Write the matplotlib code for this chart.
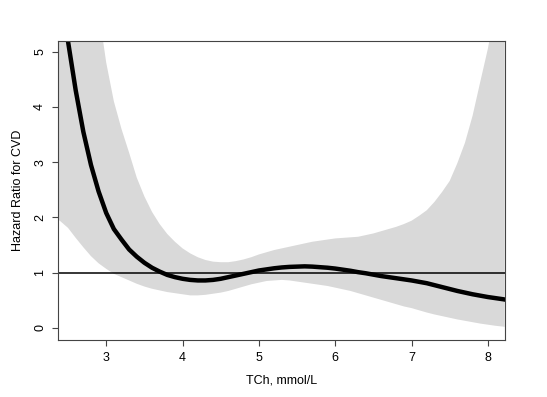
import matplotlib
matplotlib.use('Agg')
import matplotlib.pyplot as plt

plt.rcParams['font.family'] = ['Liberation Sans', 'DejaVu Sans']

# TCh values (mmol/L) and spline estimates
tch = [2.37,
       2.4, 2.5, 2.6, 2.7, 2.8, 2.9, 3.0, 3.1, 3.2, 3.3,
       3.4, 3.5, 3.6, 3.7, 3.8, 3.9, 4.0, 4.1, 4.2, 4.3,
       4.4, 4.5, 4.6, 4.7, 4.8, 4.9, 5.0, 5.1, 5.2, 5.3,
       5.4, 5.5, 5.6, 5.7, 5.8, 5.9, 6.0, 6.1, 6.2, 6.3,
       6.4, 6.5, 6.6, 6.7, 6.8, 6.9, 7.0, 7.1, 7.2, 7.3,
       7.4, 7.5, 7.6, 7.7, 7.8, 7.9, 8.0, 8.1, 8.2, 8.22]
hr = [6.6,
      6.2, 5.18, 4.3, 3.55, 2.95, 2.47, 2.08, 1.79, 1.6, 1.42,
      1.29, 1.18, 1.09, 1.02, 0.96, 0.92, 0.89, 0.87, 0.86, 0.86,
      0.87, 0.89, 0.92, 0.95, 0.98, 1.01, 1.04, 1.06, 1.08, 1.095,
      1.105, 1.11, 1.115, 1.11, 1.10, 1.09, 1.075, 1.055, 1.035, 1.01,
      0.99, 0.965, 0.94, 0.92, 0.90, 0.88, 0.86, 0.835, 0.81, 0.775,
      0.74, 0.705, 0.67, 0.64, 0.61, 0.585, 0.56, 0.54, 0.52, 0.515]
upper = [7.5,
         7.5, 7.4, 7.2, 6.9, 6.4, 5.75, 4.8, 4.1, 3.6, 3.17,
         2.72, 2.38, 2.1, 1.88, 1.7, 1.56, 1.44, 1.35, 1.28, 1.23,
         1.2, 1.19, 1.19, 1.21, 1.24, 1.28, 1.33, 1.37, 1.41, 1.44,
         1.47, 1.5, 1.53, 1.56, 1.58, 1.6, 1.62, 1.63, 1.64, 1.65,
         1.68, 1.71, 1.75, 1.79, 1.83, 1.88, 1.94, 2.03, 2.13, 2.28,
         2.46, 2.66, 2.98, 3.35, 3.84, 4.45, 5.05, 5.8, 6.6, 6.8]
lower = [1.96,
         1.93, 1.81, 1.63, 1.46, 1.3, 1.17, 1.07, 0.98, 0.92, 0.86,
         0.8, 0.75, 0.71, 0.68, 0.65, 0.63, 0.61, 0.59, 0.59, 0.6,
         0.62, 0.64, 0.67, 0.71, 0.75, 0.79, 0.82, 0.85, 0.86, 0.87,
         0.86, 0.84, 0.82, 0.8, 0.78, 0.76, 0.73, 0.7, 0.67, 0.63,
         0.59, 0.55, 0.51, 0.47, 0.43, 0.39, 0.36, 0.32, 0.28, 0.245,
         0.215, 0.185, 0.155, 0.13, 0.105, 0.08, 0.06, 0.04, 0.025, 0.02]

fig = plt.figure(figsize=(5.47, 3.97), dpi=100)
ax = fig.add_axes([0.106, 0.1436, 0.817, 0.753])

ax.fill_between(tch, lower, upper, color='#d9d9d9', linewidth=0)
ax.axhline(1, color='black', linewidth=1.1)
ax.plot(tch, hr, color='black', linewidth=3.2, solid_joinstyle='round')

ax.set_xlim(2.368, 8.223)
ax.set_ylim(-0.217, 5.19)
ax.set_xticks([3, 4, 5, 6, 7, 8])
ax.set_yticks([0, 1, 2, 3, 4, 5])
ax.tick_params(direction='out', length=4.5, width=0.8, color='#444444',
               labelsize=9, pad=4)
for lab in ax.get_yticklabels():
    lab.set_rotation(90)
    lab.set_va('center')
for s in ax.spines.values():
    s.set_color('#444444')
    s.set_linewidth(0.8)

ax.set_xlabel('TCh, mmol/L', fontsize=9, labelpad=7.5)
ax.set_ylabel('Hazard Ratio for CVD', fontsize=9, labelpad=7)

fig.savefig('out.png', dpi=100)
